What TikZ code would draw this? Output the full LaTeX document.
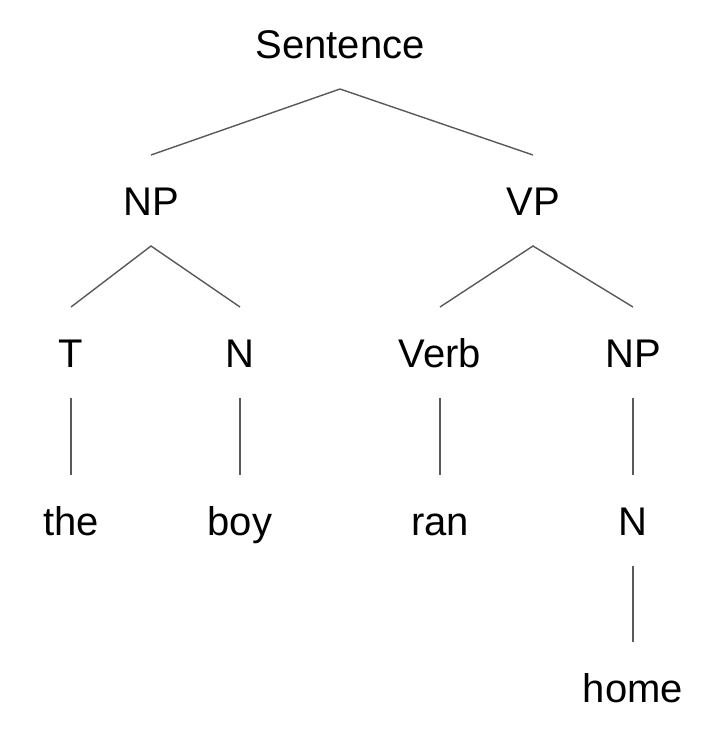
\documentclass[tikz,border=0pt]{standalone}
\usepackage{fontspec}
\setmainfont{Liberation Sans}
\definecolor{edgegray}{RGB}{89,89,89}
\begin{document}
\begin{tikzpicture}[x=1pt,y=-1pt,
  lbl/.style={anchor=base,font=\fontsize{40}{48}\selectfont,text height=29pt,text depth=0pt,inner ysep=0pt,inner xsep=0pt,outer ysep=31pt},
  edge/.style={draw=edgegray,line width=1.4pt}]
\useasboundingbox (0,0) rectangle (708,732);
\node[lbl] (s) at (340,58) {Sentence};
\node[lbl] (np) at (151,215) {NP};
\node[lbl] (vp) at (533,215) {VP};
\node[lbl] (t) at (71,367) {T};
\node[lbl] (n) at (240,367) {N};
\node[lbl] (verb) at (440,367) {Verb};
\node[lbl] (np2) at (633,367) {NP};
\node[lbl] (the) at (71,535) {the};
\node[lbl] (boy) at (240,535) {boy};
\node[lbl] (ran) at (440,535) {ran};
\node[lbl] (n2) at (633,535) {N};
\node[lbl] (home) at (633,702) {home};
\draw[edge] (np.north) -- (s.south) -- (vp.north);
\draw[edge] (t.north) -- (np.south) -- (n.north);
\draw[edge] (verb.north) -- (vp.south) -- (np2.north);
\draw[edge] (t.south) -- (the.north);
\draw[edge] (n.south) -- (boy.north);
\draw[edge] (verb.south) -- (ran.north);
\draw[edge] (np2.south) -- (n2.north);
\draw[edge] (n2.south) -- (home.north);
\end{tikzpicture}
\end{document}
